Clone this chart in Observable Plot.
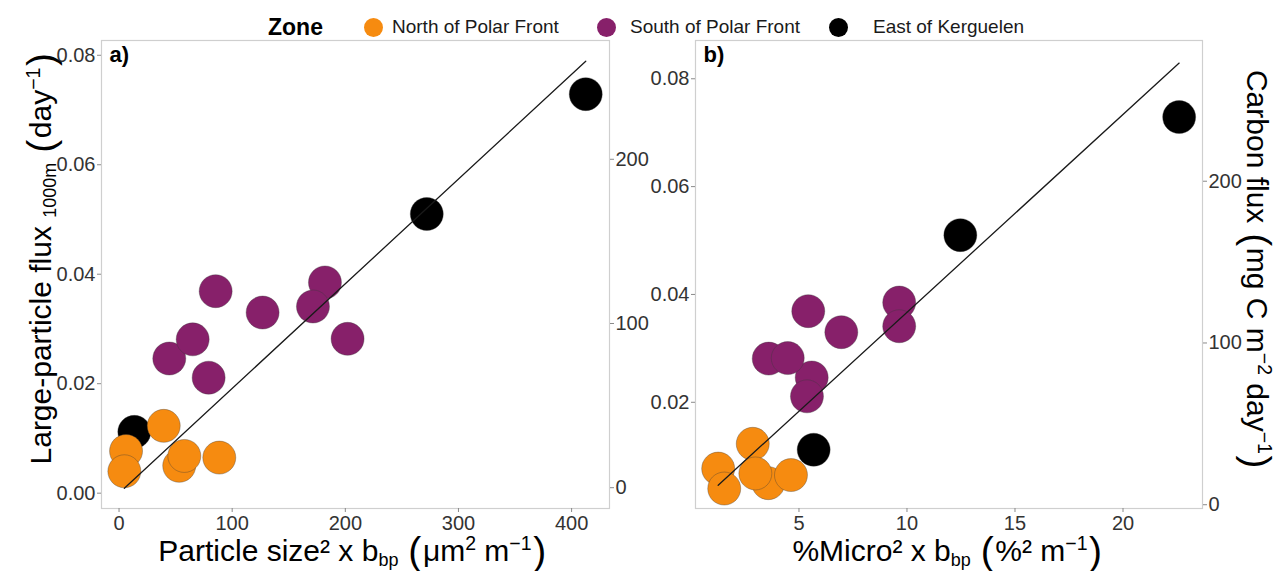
<!DOCTYPE html>
<html><head><meta charset="utf-8">
<script src="https://cdn.jsdelivr.net/npm/d3@7"></script>
<script src="https://cdn.jsdelivr.net/npm/@observablehq/plot@0.6"></script>
<style>
body{margin:0;background:#fff;font-family:"Liberation Sans",Arial,sans-serif;color:#000}
#wrap{position:relative;width:1279px;height:571px;overflow:hidden}
.panel{position:absolute;top:0}
.title{position:absolute;white-space:nowrap;font-size:30px;line-height:1;transform:translate(-50%,-50%)}
.title sub{font-size:60%;vertical-align:-0.25em;line-height:0}
.title sup{font-size:65%;vertical-align:0.55em;line-height:0}
.par{font-size:130%;vertical-align:-0.08em;margin:0 0.04em;line-height:0}
.leg{position:absolute;white-space:nowrap;line-height:1}
</style></head><body><div id="wrap"></div>
<script>
// ---- data ----
const zoneNames = ["North of Polar Front", "South of Polar Front", "East of Kerguelen"];
const zoneColors = ["#F68B10", "#87206A", "#000000"];
const zone = ["East of Kerguelen","East of Kerguelen","East of Kerguelen",
  "North of Polar Front","North of Polar Front","North of Polar Front","North of Polar Front","North of Polar Front","North of Polar Front",
  "South of Polar Front","South of Polar Front","South of Polar Front","South of Polar Front","South of Polar Front","South of Polar Front","South of Polar Front","South of Polar Front"];
const flux = [0.0112, 0.0510, 0.0729,
  0.0123, 0.0077, 0.0040, 0.0050, 0.0068, 0.0065,
  0.0246, 0.0281, 0.0211, 0.0369, 0.0330, 0.0385, 0.0341, 0.0282];
const sizeBbp = [13.5, 272, 412.5,
  39.5, 6.2, 4.7, 53.2, 57.7, 88.6,
  44.4, 65.1, 79.2, 85.4, 126.9, 182, 171.4, 202];
const microBbp = [5.68, 12.47, 22.6,
  2.86, 1.26, 1.54, 3.58, 2.98, 4.63,
  5.59, 3.60, 5.37, 5.43, 6.96, 9.64, 9.64, 4.48];
const xTicksA = [0, 100, 200, 300, 400];
const xTicksB = [5, 10, 15, 20];
const yTicksA = [0, 0.02, 0.04, 0.06, 0.08];
const yTicksB = [0.02, 0.04, 0.06, 0.08];
const carbonTicks = [0, 100, 200];
// secondary axis: flux = c0 + c1 * carbon
const c0 = 0.001, c1 = 0.0003;

const wrap = document.getElementById("wrap");
const font = '"Liberation Sans", Arial, sans-serif';

function makePanel({xs, xDomain, yDomain, xTicks, yTicks, left, width, ml, mr, tag}) {
  const data = xs.map((x, i) => ({x, y: flux[i], zone: zone[i]}));
  // regression through origin, computed from the data
  const slope = d3.sum(data, d => d.x * d.y) / d3.sum(data, d => d.x * d.x);
  const [xmin, xmax] = d3.extent(data, d => d.x);
  const fit = [xmin, xmax].map(x => ({x, y: slope * x}));
  const svg = Plot.plot({
    width, height: 571,
    marginLeft: ml, marginRight: mr, marginTop: 40, marginBottom: 63,
    style: {fontFamily: font, fontSize: "20px", background: "transparent", overflow: "visible"},
    x: {domain: xDomain, label: null},
    y: {domain: yDomain, label: null},
    color: {domain: zoneNames, range: zoneColors},
    marks: [
      Plot.frame({stroke: "#cfcfcf", strokeWidth: 1.2}),
      Plot.axisX(xTicks, {tickSize: 4, tickPadding: 3, stroke: "#8a8a8a", fill: "#333", fontSize: 20, label: null}),
      Plot.axisY(yTicks, {tickSize: 4, tickPadding: 2, stroke: "#8a8a8a", fill: "#333", fontSize: 20, tickFormat: d3.format(".2f"), label: null}),
      Plot.axisY(carbonTicks.map(c => c0 + c1 * c), {anchor: "right", tickSize: 4, tickPadding: 2, stroke: "#8a8a8a", fill: "#333", fontSize: 20,
        tickFormat: d => String(Math.round((d - c0) / c1)), label: null}),
      Plot.dot(data, {x: "x", y: "y", fill: "zone", r: 16.5, stroke: "#3a3a3a", strokeOpacity: 0.35, strokeWidth: 1}),
      Plot.line(fit, {x: "x", y: "y", stroke: "#1a1a1a", strokeWidth: 1.3}),
      Plot.text([tag], {frameAnchor: "top-left", dx: 8, dy: 6, text: d => d, fontWeight: "bold", fontSize: 22, fill: "#000", textAnchor: "start", lineAnchor: "top"})
    ]
  });
  svg.classList.add("panel");
  svg.style.left = left + "px";
  wrap.appendChild(svg);
}

makePanel({xs: sizeBbp, xDomain: [-15.5, 433.5], yDomain: [-0.0028, 0.0827], xTicks: xTicksA, yTicks: yTicksA,
  left: 0, width: 650, ml: 101, mr: 41, tag: "a)"});
makePanel({xs: microBbp, xDomain: [0.21, 23.68], yDomain: [0.0003, 0.0871], xTicks: xTicksB, yTicks: yTicksB,
  left: 650, width: 629, ml: 45, mr: 77, tag: "b)"});

// ---- titles ----
function addTitle(html, x, y, rot) {
  const d = document.createElement("div");
  d.className = "title";
  d.innerHTML = html;
  d.style.left = x + "px";
  d.style.top = y + "px";
  d.style.transform = `translate(-50%,-50%) rotate(${rot}deg)`;
  wrap.appendChild(d);
}
addTitle('Large-particle flux <sub>1000m</sub> <span class="par">(</span>day<sup>−1</sup><span class="par">)</span>', 41, 258, -90);
addTitle('Carbon flux <span class="par">(</span>mg C m<sup>−2</sup> day<sup>−1</sup><span class="par">)</span>', 1257, 270, 90);
addTitle('Particle size² x b<sub>bp</sub> <span class="par">(</span>μm<sup>2</sup> m<sup>−1</sup><span class="par">)</span>', 353, 551, 0);
addTitle('%Micro² x b<sub>bp</sub> <span class="par">(</span>%² m<sup>−1</sup><span class="par">)</span>', 948, 551, 0);

// ---- legend ----
const legPos = [{dot: 373, text: 392}, {dot: 606, text: 630}, {dot: 838, text: 873}];
const zt = document.createElement("div");
zt.className = "leg";
zt.style.cssText += "left:268px;top:16px;font-size:23px;font-weight:bold;";
zt.textContent = "Zone";
wrap.appendChild(zt);
zoneNames.forEach((name, i) => {
  const dot = document.createElement("div");
  dot.style.cssText = `position:absolute;left:${legPos[i].dot - 9.5}px;top:${27 - 9.5}px;width:19px;height:19px;border-radius:50%;background:${zoneColors[i]}`;
  wrap.appendChild(dot);
  const t = document.createElement("div");
  t.className = "leg";
  t.style.cssText += `left:${legPos[i].text}px;top:17px;font-size:19px;color:#1a1a1a`;
  t.textContent = name;
  wrap.appendChild(t);
});
</script></body></html>
